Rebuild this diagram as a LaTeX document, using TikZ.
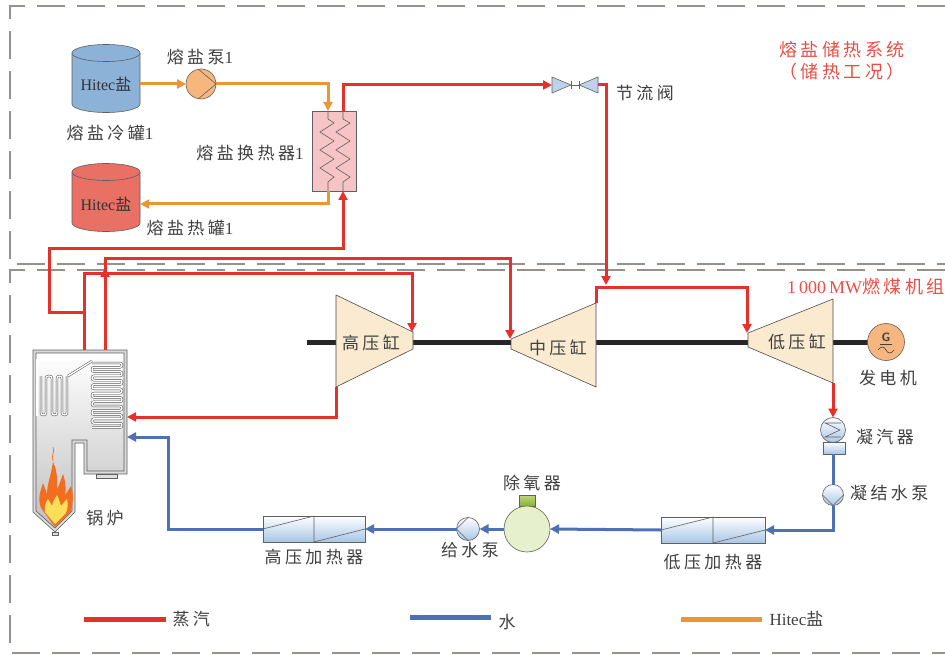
\documentclass[tikz,border=0pt]{standalone}
\usepackage{fontspec}
\setmainfont{Liberation Serif}
\newfontfamily\cjk[LetterSpace=20]{Noto Sans CJK SC}
\newcommand\zh[1]{{\cjk #1}}
\usetikzlibrary{arrows.meta, positioning, calc}

\definecolor{steamred}{RGB}{232,48,42}
\definecolor{waterblue}{RGB}{78,112,180}
\definecolor{saltorange}{RGB}{236,150,50}
\definecolor{labelgray}{RGB}{64,64,64}
\definecolor{framegray}{RGB}{150,145,140}
\definecolor{coldblue}{RGB}{140,178,215}
\definecolor{hotred}{RGB}{232,112,100}
\definecolor{hxpink}{RGB}{246,196,196}
\definecolor{turbinecream}{RGB}{250,234,208}
\definecolor{valveblue}{RGB}{190,210,234}
\definecolor{pumporange}{RGB}{246,182,126}
\definecolor{heaterblue}{RGB}{168,198,230}
\definecolor{deagreen}{RGB}{230,240,204}
\definecolor{capgreen}{RGB}{138,178,40}
\definecolor{titlered}{RGB}{235,78,68}
\definecolor{flameorange}{RGB}{242,110,30}
\definecolor{flameyellow}{RGB}{252,222,90}

\tikzset{
  pipe/.style={line width=3pt},
  steam/.style={pipe, draw=steamred},
  water/.style={pipe, draw=waterblue},
  salt/.style={pipe, draw=saltorange},
  flow/.style={-{Triangle[length=9pt,width=9pt]}},
  lbl/.style={text=labelgray, inner sep=0pt, font=\fontsize{17}{20}\selectfont},
  systitle/.style={text=titlered, inner sep=0pt, font=\fontsize{18}{22}\selectfont},
  outline/.style={draw=gray!75!black, line width=0.6pt},
  pumpc/.style={circle, outline, inner sep=0pt, outer sep=0pt, minimum size=#1},
  heater/.style={rectangle, outline, top color=white, bottom color=heaterblue,
    minimum width=#1, minimum height=26pt, inner sep=0pt, outer sep=0pt},
  tube/.style={draw=gray!60!black, line width=0.5pt, double=white, double distance=1.4pt},
  boxline/.style={draw=framegray, line width=2.5pt, dash pattern=on 28pt off 12pt},
  shaft/.style={line width=5pt, draw=black!85},
  turbine/.style={fill=turbinecream, draw=gray!60!black, line width=0.6pt},
}

\begin{document}
\begin{tikzpicture}[x=1pt, y=-1pt]
  \fill[white] (0,0) rectangle (945,655);
  \useasboundingbox (0,0) rectangle (945,655);

  % Frames
  \draw[boxline] (945,6) -- (10,6) -- (10,264) -- (945,264);
  \draw[boxline] (945,270) -- (10,270) -- (10,653) -- (945,653);

  % Salt tanks
  \fill[coldblue] (72,53) -- (72,104) arc[start angle=180, end angle=0, x radius=34, y radius=8.5] -- (140,53) -- cycle;
  \draw[outline] (72,53) -- (72,104) arc[start angle=180, end angle=0, x radius=34, y radius=8.5] -- (140,53);
  \filldraw[fill=coldblue, outline] (106,53) ellipse [x radius=34, y radius=8.5];
  \fill[hotred] (72,172) -- (72,223) arc[start angle=180, end angle=0, x radius=34, y radius=8.5] -- (140,172) -- cycle;
  \draw[outline] (72,172) -- (72,223) arc[start angle=180, end angle=0, x radius=34, y radius=8.5] -- (140,172);
  \filldraw[fill=hotred, outline] (106,172) ellipse [x radius=34, y radius=8.5];
  \node[lbl, text=black!80, font=\fontsize{16}{18}\selectfont, minimum width=68pt, minimum height=40pt] (coldtank) at (106,84) {Hitec\zh{盐}};
  \node[lbl, text=black!80, font=\fontsize{16}{18}\selectfont, minimum width=68pt, minimum height=40pt] (hottank) at (106,204) {Hitec\zh{盐}};
  \node[lbl] (coldlbl) at (110,133) {\zh{熔盐冷罐}1};
  \node[lbl] (hotlbl) at (190,228) {\zh{熔盐热罐}1};

  % Salt pump
  \node[pumpc=30, fill=pumporange] (saltpump) at (201,84) {};
  \draw[outline] (saltpump.100) -- (saltpump.east) -- (saltpump.260);
  \node[lbl] (saltpumplbl) at (200,57) {\zh{熔盐泵}1};

  % Salt heat exchanger
  \node[rectangle, outline, fill=hxpink, minimum width=44pt, minimum height=80pt, inner sep=0pt, outer sep=0pt] (hx) at (334,151) {};
  \coordinate (hxsaltin) at ($(hx.north)+(-6,0)$);
  \coordinate (hxsaltout) at ($(hx.south)+(-6,0)$);
  \coordinate (hxsteamout) at ($(hx.north)+(9,0)$);
  \coordinate (hxsteamin) at ($(hx.south)+(9,0)$);
  \draw[outline] (hxsaltin) -- (328,119) -- (334,123) -- (320,132) -- (334,141) -- (320,150) -- (334,159) -- (320,168) -- (334,177) -- (328,182) -- (hxsaltout);
  \draw[outline] (hxsteamout) -- (343,119) -- (350,123) -- (336,132) -- (350,141) -- (336,150) -- (350,159) -- (336,168) -- (350,177) -- (343,182) -- (hxsteamin);
  \node[lbl] (hxlbl) at (250,153) {\zh{熔盐换热器}1};

  % Throttle valve
  \node[inner sep=0pt, outer sep=0pt, minimum width=46pt, minimum height=16pt] (valve) at (575,85) {};
  \filldraw[fill=valveblue, outline] (valve.north west) -- (571,85) -- (valve.south west) -- cycle;
  \filldraw[fill=valveblue, outline] (valve.north east) -- (579,85) -- (valve.south east) -- cycle;
  \draw[outline] (571,85) -- (579,85) (571,81) -- (571,89) (579,81) -- (579,89);
  \node[lbl] (valvelbl) at (645,93) {\zh{节流阀}};

  % System titles
  \node[systitle] (saltsys) at (842,50) {\zh{熔盐储热系统}};
  \node[systitle] (saltmode) at (842,72) {\zh{（储热工况）}};
  \node[systitle, anchor=east] (unitlbl) at (945,287) {1\,000\,MW\zh{燃煤机组}};

  % Boiler casing
  \filldraw[fill=gray!30, outline] (33,350) -- (127,350) -- (127,474) -- (84,474) -- (84,443) -- (75,443) -- (75,512) -- (55,532) -- (33,512) -- cycle;
  \shade[top color=white, bottom color=gray!50] (36,353) -- (124,353) -- (124,471) -- (87,471) -- (87,440) -- (72,440) -- (72,511) -- (55,528) -- (36,511) -- cycle;
  \draw[outline] (36,353) -- (124,353) -- (124,471) -- (87,471) -- (87,440) -- (72,440) -- (72,511) -- (55,528) -- (36,511) -- cycle;
  \filldraw[fill=gray!25, outline] (96,474) rectangle (117,478);
  \filldraw[fill=gray!25, outline] (52,532) rectangle (58,535);

  % Flame
  \fill[flameorange] (41,508) .. controls (37,498) and (41,490) .. (43,483) .. controls (45,488) and (46,491) .. (47,494) .. controls (47,484) and (51,476) .. (53,462) .. controls (58,472) and (57,482) .. (57,490) .. controls (59,485) and (61,480) .. (63,474) .. controls (66,483) and (66,490) .. (65,495) .. controls (67,492) and (69,489) .. (71,486) .. controls (74,495) and (73,503) .. (71,511) -- (55,527) -- cycle;
  \fill[flameyellow] (45,512) .. controls (44,506) and (46,502) .. (48,499) .. controls (50,502) and (51,504) .. (52,506) .. controls (53,501) and (55,498) .. (57,495) .. controls (59,499) and (60,503) .. (61,506) .. controls (63,503) and (65,501) .. (67,499) .. controls (68,504) and (68,508) .. (66,513) -- (55,524) -- cycle;
  \draw[flameorange, line width=0.7pt] (53,461) .. controls (51,455) and (55,452) .. (53,447);

  % Boiler tubes
  \draw[tube] (37,416) -- (37,360) -- (92,360);
  \draw[tube] (92,361) -- (68,376);
  \draw[tube, rounded corners=2.4pt] (67,376) -- (67,415) -- (62,415) -- (62,376) -- (57,376) -- (57,415) -- (52,415) -- (52,376) -- (46,376) -- (46,415) -- (41,415) -- (41,376);
  \draw[tube, rounded corners=2pt] (92,363) \foreach \k in {0,...,6} { -- (122,{363+8.6*\k}) -- (122,{367.3+8.6*\k}) -- (92,{367.3+8.6*\k}) -- (92,{371.6+8.6*\k}) } -- (122,423.2) -- (122,427.5) -- (92,427.5);
  \node[lbl] (boilerlbl) at (105,518) {\zh{锅炉}};
  \coordinate (msout) at (84,350);
  \coordinate (rhout) at (105,350);
  \coordinate (rhin) at (127,417);
  \coordinate (fwin) at (127,437);

  % Shaft and turbines
  \draw[shaft] (307,342) -- (870,342);
  \filldraw[turbine] (336,295) -- (413,332) -- (413,349) -- (336,387) -- cycle;
  \filldraw[turbine] (511,339) -- (596,303) -- (596,387) -- (511,349) -- cycle;
  \filldraw[turbine] (748,333) -- (833,299) -- (833,383) -- (748,347) -- cycle;
  \node[lbl] (hp) at (371,343) {\zh{高压缸}};
  \node[lbl] (ip) at (558,348) {\zh{中压缸}};
  \node[lbl] (lp) at (797,342) {\zh{低压缸}};
  \coordinate (hpin) at (412,332);
  \coordinate (hpout) at (336,387);
  \coordinate (ipin) at (510,339);
  \coordinate (ipout) at (596,303);
  \coordinate (lpin) at (747,333);
  \coordinate (lpout) at (833,383);

  % Generator
  \node[pumpc=37, fill=pumporange] (gen) at (886,342) {};
  \node[font=\sffamily\bfseries\fontsize{12}{12}\selectfont, text=labelgray, inner sep=0pt] (genG) at (886,337) {G};
  \draw[labelgray, line width=0.6pt] (880,344) -- (892,344);
  \draw[labelgray, line width=0.6pt] (878,350) .. controls (881,346) and (884,346) .. (886,350) .. controls (888,354) and (891,354) .. (894,350);
  \node[lbl] (genlbl) at (888,378) {\zh{发电机}};

  % Condenser
  \path[outline, top color=white, bottom color=heaterblue] (823,442) rectangle (845,454);
  \node[pumpc=25, top color=white, bottom color=heaterblue] (cond) at (833,430) {};
  \draw[outline] (841,423) -- (825,423) -- (840,430) -- (825,437) -- (841,437);
  \node[lbl] (condlbl) at (885,437) {\zh{凝汽器}};
  \coordinate (condout) at (833,454);

  % Condensate pump
  \node[pumpc=21, top color=white, bottom color=heaterblue] (cpump) at (833,495) {};
  \draw[outline] (cpump.west) -- (cpump.south) -- (cpump.east);
  \node[lbl, anchor=west] (cpumplbl) at (850,493) {\zh{凝结水泵}};

  % Heaters
  \node[heater=104] (lph) at (713,530) {};
  \draw[outline] (lph.west) -- (lph.north) -- (lph.south) -- (lph.east);
  \node[lbl] (lphlbl) at (713,562) {\zh{低压加热器}};
  \node[heater=102] (hph) at (314,529) {};
  \draw[outline] (hph.west) -- (hph.north) -- (hph.south) -- (hph.east);
  \node[lbl] (hphlbl) at (314,557) {\zh{高压加热器}};

  % Deaerator
  \path[outline, top color=capgreen!55, bottom color=capgreen] (519,495) rectangle (535,506);
  \node[pumpc=46, fill=deagreen] (dea) at (527,529) {};
  \node[lbl] (dealbl) at (532,483) {\zh{除氧器}};

  % Feed pump
  \node[pumpc=23, top color=white, bottom color=heaterblue] (fpump) at (468,529) {};
  \draw[outline] (fpump.north) -- (fpump.west) -- (fpump.south);
  \node[lbl] (fpumplbl) at (470,550) {\zh{给水泵}};

  % Steam lines
  \draw[steam, flow] (msout) -- (84,273) -| (hpin);
  \draw[steam, flow] (84,312) -| (49,248) -| (hxsteamin);
  \draw[steam, flow] (rhout) -- (105,258) -| (ipin);
  \draw[steam, flow] (105,292) -- (105,268);
  \draw[steam, flow] (hpout) |- (rhin);
  \draw[steam, flow] (hxsteamout) |- (valve.west);
  \draw[steam, flow] (valve.east) -| (606,285);
  \draw[steam, flow] (ipout) |- (747,287) -- (lpin);
  \draw[steam, flow] (lpout) -- (cond.north);

  % Water lines
  \draw[water] (condout) -- (cpump.north);
  \draw[water, flow] (cpump.south) |- (lph.east);
  \draw[water, flow] (lph.west) -- (dea.east);
  \draw[water, flow] (dea.west) -- (fpump.east);
  \draw[water, flow] (fpump.west) -- (hph.east);
  \draw[water, flow] (hph.west) -| (168,437) -- (fwin);

  % Salt lines
  \draw[salt, flow] (coldtank.east) -- (saltpump.west);
  \draw[salt, flow] (saltpump.east) -| (hxsaltin);
  \draw[salt, flow] (hxsaltout) |- (hottank.east);

  % Legend
  \draw[steam, line width=5pt] (84,619) -- (166,619) node[lbl, right=4pt] (steamkey) {\zh{蒸汽}};
  \draw[water, line width=5pt] (410,617) -- (491,617) node[lbl, right=5pt, yshift=-5pt] (waterkey) {\zh{水}};
  \draw[salt, line width=5pt] (681,619) -- (762,619) node[lbl, right=5pt] (saltkey) {Hitec\zh{盐}};
\end{tikzpicture}
\end{document}
